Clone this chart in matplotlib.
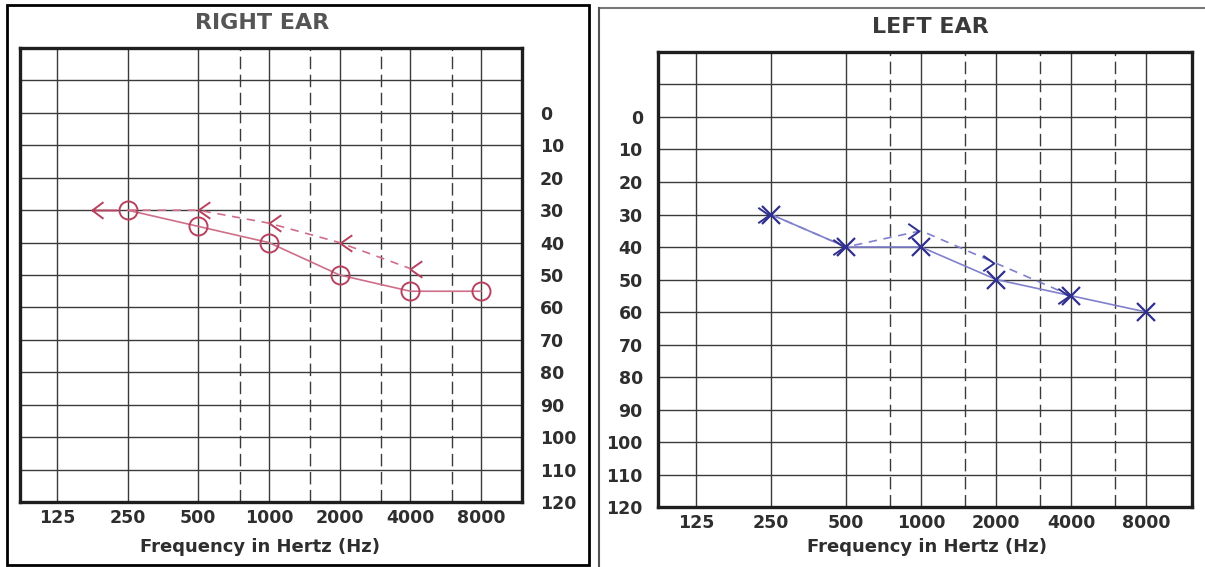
import matplotlib
matplotlib.use("Agg")
import matplotlib.pyplot as plt
from matplotlib.path import Path
from matplotlib.lines import Line2D
from matplotlib.patches import Rectangle
from matplotlib.ticker import NullLocator
from matplotlib.transforms import ScaledTranslation

# audiogram frame
freqs = [125, 250, 500, 1000, 2000, 4000, 8000]
freq_labels = ["125", "250", "500", "1000", "2000", "4000", "8000"]
half_octaves = [750, 1500, 3000, 6000]
db_ticks = [0, 10, 20, 30, 40, 50, 60, 70, 80, 90, 100, 110, 120]
db_lines = [-10, 0, 10, 20, 30, 40, 50, 60, 70, 80, 90, 100, 110]

# right ear: air conduction (O) and bone conduction (<)
right_ac_freqs = [250, 500, 1000, 2000, 4000, 8000]
right_ac_db = [30, 35, 40, 50, 55, 55]
right_bc_freqs = [250, 500, 1000, 2000, 4000]
right_bc_db = [30, 30, 34, 40, 48]

# left ear: air conduction (X) and bone conduction (>)
left_ac_freqs = [250, 500, 1000, 2000, 4000, 8000]
left_ac_db = [30, 40, 40, 50, 55, 60]
left_bc_freqs = [250, 500, 1000, 2000, 4000]
left_bc_db = [30, 40, 35, 45, 55]

GRID = "#3a3a3a"
TEXT = "#2e2e2e"
RED_LINE = "#cf6e88"
RED_MARK = "#b8415f"
BLUE_LINE = "#8080cc"
BLUE_MARK = "#2f2f8f"

# hand drawn chevrons (open paths, tip sits on the point)
open3 = [Path.MOVETO, Path.LINETO, Path.LINETO]
chev_left = Path([(1.0, 0.7), (0.0, 0.0), (1.0, -0.7)], open3)
chev_right = Path([(-1.2, 0.7), (-0.2, 0.0), (-1.2, -0.7)], open3)
chev_left_tail = Path([(0.0, 0.6), (-0.8, 0.0), (0.0, -0.6), (-0.8, 0.0), (1.0, 0.0)],
                      [Path.MOVETO, Path.LINETO, Path.LINETO, Path.MOVETO, Path.LINETO])


def setup_audiogram(ax, xlim, ticks_right):
    ax.set_xscale("log", base=2)
    ax.set_xlim(*xlim)
    ax.set_ylim(120, -20)
    ax.set_xticks(freqs, labels=freq_labels)
    ax.xaxis.set_minor_locator(NullLocator())
    ax.set_yticks(db_ticks)
    ax.yaxis.set_minor_locator(NullLocator())

    for f in freqs:
        ax.axvline(f, color=GRID, lw=1.0, zorder=1)
    for f in half_octaves:
        ax.axvline(f, color=GRID, lw=1.0, dashes=(9, 4), zorder=1)
    for d in db_lines:
        ax.axhline(d, color=GRID, lw=1.0, zorder=1)

    for s in ax.spines.values():
        s.set_linewidth(2.4)
        s.set_color("#1e1e1e")

    if ticks_right:
        ax.yaxis.tick_right()
        ax.tick_params(axis="y", length=0, pad=13)
    else:
        ax.tick_params(axis="y", length=0, pad=11)
    ax.tick_params(axis="x", length=0, pad=5)
    for lab in ax.get_xticklabels() + ax.get_yticklabels():
        lab.set_fontsize(12.5)
        lab.set_fontweight("bold")
        lab.set_color(TEXT)


fig = plt.figure(figsize=(12.05, 5.67), dpi=100)
fig.patch.set_facecolor("white")

# ---- right ear ----
ax_r = fig.add_axes([0.0166, 0.1146, 0.4166, 0.8007])
setup_audiogram(ax_r, (87, 11970), ticks_right=True)

ax_r.plot(right_ac_freqs, right_ac_db, color=RED_LINE, lw=1.2, zorder=3)
ax_r.plot(right_ac_freqs, right_ac_db, ls="none", marker="o", ms=13,
          mfc="none", mec=RED_MARK, mew=1.4, zorder=4)
ax_r.plot(right_bc_freqs, right_bc_db, color=RED_LINE, lw=1.2,
          dashes=(5, 4), zorder=3)
ax_r.plot(right_bc_freqs[1:], right_bc_db[1:], ls="none", marker=chev_left,
          ms=17, mfc="none", mec=RED_MARK, mew=1.4, zorder=4)
# the 250 Hz bone mark is drawn off to the left of the circle
shift = ax_r.transData + ScaledTranslation(-0.25, 0, fig.dpi_scale_trans)
ax_r.plot(right_bc_freqs[:1], right_bc_db[:1], ls="none", marker=chev_left_tail,
          ms=20, mfc="none", mec=RED_MARK, mew=1.4, zorder=4, transform=shift)

fig.text(262 / 1205, 1 - 23 / 567, "RIGHT EAR", ha="center", va="center",
         fontsize=16, fontweight="bold", color="#555555")
fig.text(260 / 1205, 1 - 547 / 567, "Frequency in Hertz (Hz)", ha="center",
         va="center", fontsize=13, fontweight="bold", color=TEXT)

# ---- left ear ----
ax_l = fig.add_axes([0.5461, 0.1058, 0.4432, 0.8025])
setup_audiogram(ax_l, (88, 12235), ticks_right=False)

ax_l.plot(left_ac_freqs, left_ac_db, color=BLUE_LINE, lw=1.2, zorder=3)
ax_l.plot(left_ac_freqs, left_ac_db, ls="none", marker="x", ms=13,
          mec=BLUE_MARK, mew=1.6, zorder=4)
ax_l.plot(left_bc_freqs, left_bc_db, color=BLUE_LINE, lw=1.2,
          dashes=(5, 4), zorder=3)
ax_l.plot(left_bc_freqs, left_bc_db, ls="none", marker=chev_right,
          ms=19, mfc="none", mec=BLUE_MARK, mew=1.4, zorder=4)

fig.text(930 / 1205, 1 - 27 / 567, "LEFT EAR", ha="center", va="center",
         fontsize=16, fontweight="bold", color="#3a3a3a")
fig.text(927 / 1205, 1 - 547 / 567, "Frequency in Hertz (Hz)", ha="center",
         va="center", fontsize=13, fontweight="bold", color=TEXT)

# scan frames around the two sheets
fig.add_artist(Rectangle((7 / 1205, 1 - 565 / 567), 582 / 1205, 560 / 567,
                         transform=fig.transFigure, fill=False,
                         edgecolor="black", lw=2.0))
fig.add_artist(Line2D([599 / 1205, 1.0], [1 - 8 / 567, 1 - 8 / 567],
                      transform=fig.transFigure, color="#777777", lw=1.5))
fig.add_artist(Line2D([599 / 1205, 599 / 1205], [0.0, 1 - 8 / 567],
                      transform=fig.transFigure, color="#555555", lw=1.5))

fig.savefig("out.png", dpi=100)
